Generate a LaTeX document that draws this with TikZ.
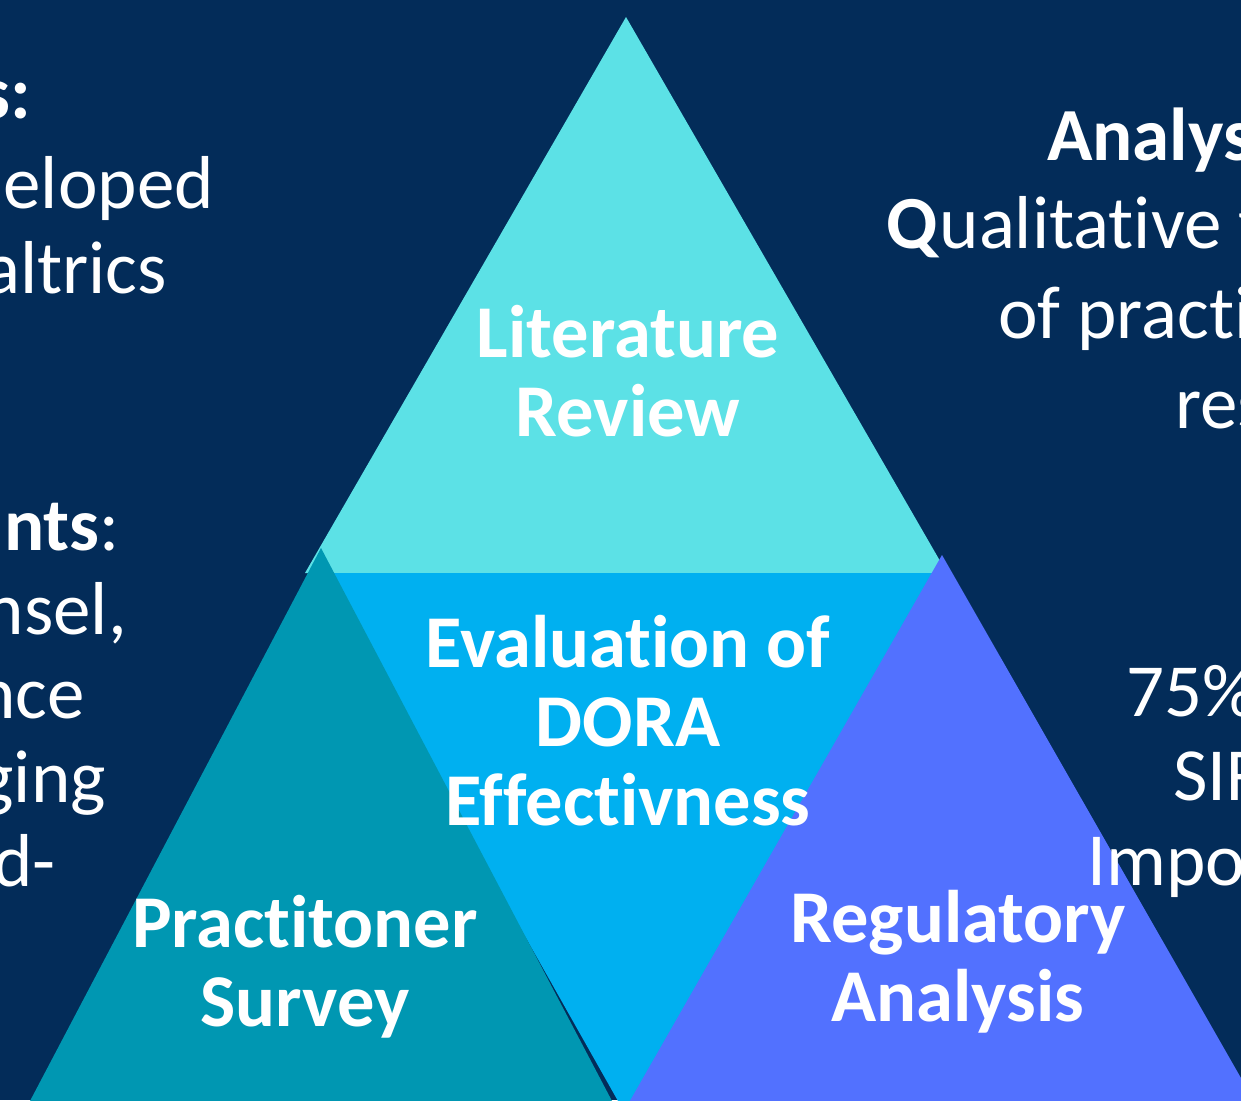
\documentclass[tikz,border=0pt]{standalone}
\usepackage{fontspec}
\setmainfont{Carlito}[RawFeature={-liga;-clig;-calt;-rlig;-dlig}]
\definecolor{navybg}{RGB}{3,44,89}
\definecolor{litcyan}{HTML}{5CE1E6}
\definecolor{evalblue}{HTML}{00B0F0}
\definecolor{survteal}{HTML}{0097B2}
\definecolor{regviolet}{HTML}{5271FF}

\begin{document}
\begin{tikzpicture}[x=1pt, y=-1pt,
  trilabel/.style={text=white, font=\fontsize{74.5}{79}\selectfont\bfseries, align=center, inner sep=0pt},
  sidetxt/.style={text=white, font=\fontsize{75}{85}\selectfont, inner sep=0pt}]
  \useasboundingbox (0,0) rectangle (1241,1100);
  \clip (0,0) rectangle (1241,1100);
  \fill[navybg] (0,0) rectangle (1241,1100);

  % triangles
  \fill[litcyan] (626,17) -- (305,573) -- (947,573) -- cycle;
  \fill[evalblue] (320,573) -- (950,573) -- (640,1140) -- cycle;
  \fill[survteal] (321,548) -- (20,1120) -- (622,1120) -- cycle;
  \fill[regviolet] (942,555) -- (619,1120) -- (1265,1120) -- cycle;

  \node[trilabel] (litreview) at (628,371) {Literature\\Review};
  \node[trilabel] (evaldora) at (628,721) {Evaluation of\\DORA\\Effectivness};
  \node[trilabel] (practsurvey) at (305,967) {Practitoner\\Survey};
  \node[trilabel] (regulanalysis) at (958,962) {Regulatory\\Analysis};

  % left column
  \node[sidetxt, anchor=base east] (methA) at (31,118) {\textbf{s:}};
  \node[sidetxt, anchor=base east] (methB) at (214,208) {eloped};
  \node[sidetxt, anchor=base east] (methC) at (167,293) {altrics};
  \node[sidetxt, anchor=base east] (partA) at (120,550) {\textbf{nts}:};
  \node[sidetxt, anchor=base east] (partB) at (127,634) {nsel,};
  \node[sidetxt, anchor=base east] (partC) at (85,718) {nce};
  \node[sidetxt, anchor=base east] (partD) at (106,802) {ging};
  \node[sidetxt, anchor=base east] (partE) at (56,886) {d-};

  % right column
  \node[sidetxt, anchor=base west] (anaA) at (1047,160) {\textbf{Analys}};
  \node[sidetxt, anchor=base west] (anaB) at (886,248) {\textbf{Q}ualitative t};
  \node[sidetxt, anchor=base west] (anaC) at (998,338) {of practi};
  \node[sidetxt, anchor=base west] (anaD) at (1175,428) {res};
  \node[sidetxt, anchor=base west] (resA) at (1126,716) {75\%};
  \node[sidetxt, anchor=base west] (resB) at (1173,800) {SIF};
  \node[sidetxt, anchor=base west] (resC) at (1087,885) {Impor};
\end{tikzpicture}
\end{document}
